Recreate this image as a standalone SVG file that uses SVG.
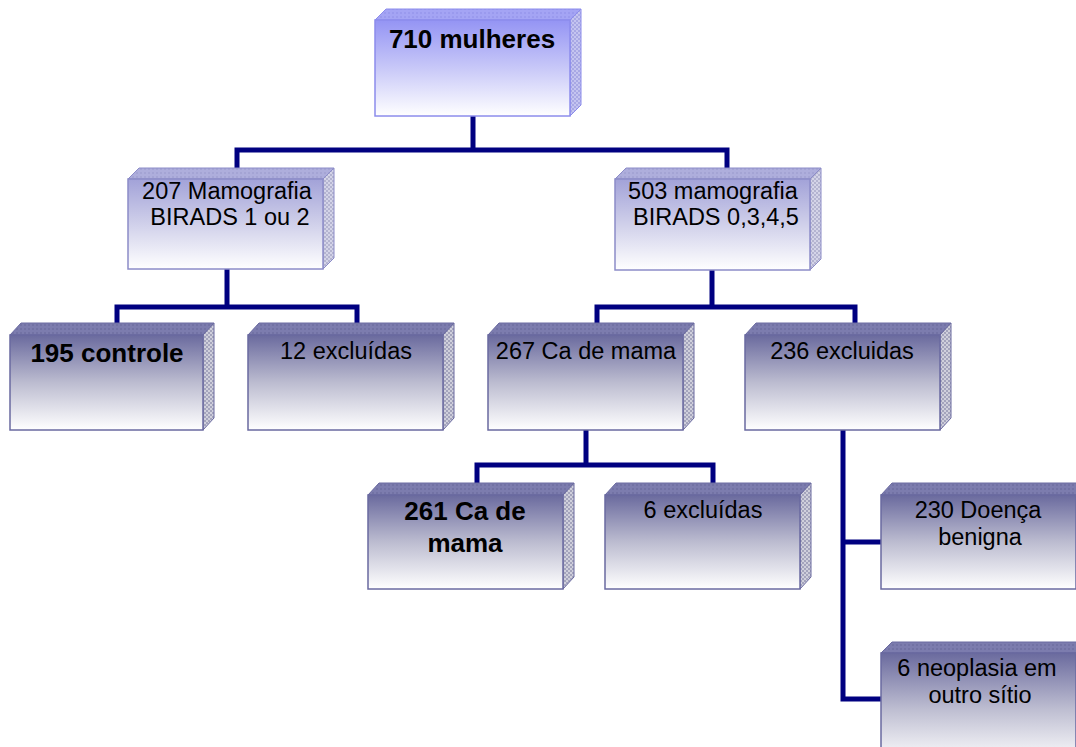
<svg xmlns="http://www.w3.org/2000/svg" width="1076" height="747" viewBox="0 0 1076 747">
<defs>
<linearGradient id="g1" x1="0" y1="0" x2="0" y2="1"><stop offset="0" stop-color="#9494f4"/><stop offset="0.5" stop-color="#c8c8f8"/><stop offset="1" stop-color="#ffffff"/></linearGradient>
<linearGradient id="g2" x1="0" y1="0" x2="0" y2="1"><stop offset="0" stop-color="#a2a2d8"/><stop offset="0.5" stop-color="#d0d0ea"/><stop offset="1" stop-color="#ffffff"/></linearGradient>
<linearGradient id="g3" x1="0" y1="0" x2="0" y2="1"><stop offset="0" stop-color="#6a6a9e"/><stop offset="0.5" stop-color="#bcbcd0"/><stop offset="1" stop-color="#ffffff"/></linearGradient>
<pattern id="p1" width="4" height="4" patternUnits="userSpaceOnUse"><rect width="4" height="4" fill="#c4c4f0"/><rect width="2" height="2" fill="#a8a8e4"/><rect x="2" y="2" width="2" height="2" fill="#a8a8e4"/></pattern>
<pattern id="p2" width="4" height="4" patternUnits="userSpaceOnUse"><rect width="4" height="4" fill="#d4d4e8"/><rect width="2" height="2" fill="#b4b4d0"/><rect x="2" y="2" width="2" height="2" fill="#b4b4d0"/></pattern>
<pattern id="p3" width="4" height="4" patternUnits="userSpaceOnUse"><rect width="4" height="4" fill="#d0d0dc"/><rect width="2" height="2" fill="#a4a4bc"/><rect x="2" y="2" width="2" height="2" fill="#a4a4bc"/></pattern>
<pattern id="t1" width="4" height="4" patternUnits="userSpaceOnUse"><rect width="4" height="4" fill="#a4a4f4"/><rect width="2" height="2" fill="#9a9aee"/></pattern>
<pattern id="t2" width="4" height="4" patternUnits="userSpaceOnUse"><rect width="4" height="4" fill="#aeaedc"/><rect width="2" height="2" fill="#a4a4d4"/></pattern>
<pattern id="t3" width="4" height="4" patternUnits="userSpaceOnUse"><rect width="4" height="4" fill="#7c7cae"/><rect width="2" height="2" fill="#7272a4"/></pattern>
</defs>
<style>
.f1{fill:url(#g1);stroke:#8c8cec;stroke-width:1.5}
.f2{fill:url(#g2);stroke:#8c8cc8;stroke-width:1.5}
.f3{fill:url(#g3);stroke:#6a6aa0;stroke-width:1.5}
.s1{fill:url(#p1);stroke:#8c8cec;stroke-width:1}
.s2{fill:url(#p2);stroke:#8c8cc8;stroke-width:1}
.s3{fill:url(#p3);stroke:#6a6aa0;stroke-width:1}
.b1{fill:url(#t1);stroke:#8c8cec;stroke-width:1}
.b2{fill:url(#t2);stroke:#8c8cc8;stroke-width:1}
.b3{fill:url(#t3);stroke:#6a6aa0;stroke-width:1}
text{font-family:"Liberation Sans",Arial,sans-serif;fill:#000;text-anchor:middle}
.r{font-size:23.5px}
.bd{font-size:26px;font-weight:bold}
.con{fill:none;stroke:#000080;stroke-width:5;stroke-linejoin:miter;stroke-linecap:butt}
</style>
<g id="connectors">
<path class="con" d="M473,116 V150 M237,168 V150 H727 V168"/>
<path class="con" d="M227,269 V307 M117,324 V307 H357 V324"/>
<path class="con" d="M712,270 V307 M597,324 V307 H855 V324"/>
<path class="con" d="M586,430 V465 M477,484 V465 H713 V484"/>
<path class="con" d="M843,430 V699 H881 M843,542 H881"/>
</g>
<g id="n710">
<polygon class="b1" points="375,20 386,9 581,9 570,20"/>
<polygon class="s1" points="570,20 581,9 581,105 570,116"/>
<rect class="f1" x="375" y="20" width="195" height="96"/>
<text class="bd" x="472" y="48">710 mulheres</text>
</g>
<g id="n207">
<polygon class="b2" points="128,179 139,168 334,168 323,179"/>
<polygon class="s2" points="323,179 334,168 334,258 323,269"/>
<rect class="f2" x="128" y="179" width="195" height="90"/>
<text class="r" x="227" y="199">207 Mamografia</text>
<text class="r" x="230" y="225">BIRADS 1 ou 2</text>
</g>
<g id="n503">
<polygon class="b2" points="615,179 626,168 821,168 810,179"/>
<polygon class="s2" points="810,179 821,168 821,259 810,270"/>
<rect class="f2" x="615" y="179" width="195" height="91"/>
<text class="r" x="713" y="199">503 mamografia</text>
<text class="r" x="716" y="225">BIRADS 0,3,4,5</text>
</g>
<g id="n195">
<polygon class="b3" points="10,335 21,323 214,323 203,335"/>
<polygon class="s3" points="203,335 214,323 214,418 203,430"/>
<rect class="f3" x="10" y="335" width="193" height="95"/>
<text class="bd" x="107" y="362">195 controle</text>
</g>
<g id="n12">
<polygon class="b3" points="248,335 259,323 454,323 443,335"/>
<polygon class="s3" points="443,335 454,323 454,418 443,430"/>
<rect class="f3" x="248" y="335" width="195" height="95"/>
<text class="r" x="346" y="359">12 excluídas</text>
</g>
<g id="n267">
<polygon class="b3" points="488,335 499,323 694,323 683,335"/>
<polygon class="s3" points="683,335 694,323 694,418 683,430"/>
<rect class="f3" x="488" y="335" width="195" height="95"/>
<text class="r" x="586" y="359">267 Ca de mama</text>
</g>
<g id="n236">
<polygon class="b3" points="745,335 756,323 951,323 940,335"/>
<polygon class="s3" points="940,335 951,323 951,418 940,430"/>
<rect class="f3" x="745" y="335" width="195" height="95"/>
<text class="r" x="842" y="359">236 excluidas</text>
</g>
<g id="n261">
<polygon class="b3" points="368,495 379,483 574,483 563,495"/>
<polygon class="s3" points="563,495 574,483 574,577 563,589"/>
<rect class="f3" x="368" y="495" width="195" height="94"/>
<text class="bd" x="465" y="520">261 Ca de</text>
<text class="bd" x="465" y="552">mama</text>
</g>
<g id="n6excl">
<polygon class="b3" points="605,495 616,483 811,483 800,495"/>
<polygon class="s3" points="800,495 811,483 811,577 800,589"/>
<rect class="f3" x="605" y="495" width="195" height="94"/>
<text class="r" x="703" y="518">6 excluídas</text>
</g>
<g id="n230">
<polygon class="b3" points="881,495 892,483 1087,483 1076,495"/>
<rect class="f3" x="881" y="495" width="195" height="94"/>
<text class="r" x="978" y="518">230 Doença</text>
<text class="r" x="980" y="545">benigna</text>
</g>
<g id="n6neo">
<polygon class="b3" points="881,653 892,642 1087,642 1076,653"/>
<rect class="f3" x="881" y="653" width="195" height="110"/>
<text class="r" x="977" y="676">6 neoplasia em</text>
<text class="r" x="980" y="703">outro sítio</text>
</g>
</svg>
